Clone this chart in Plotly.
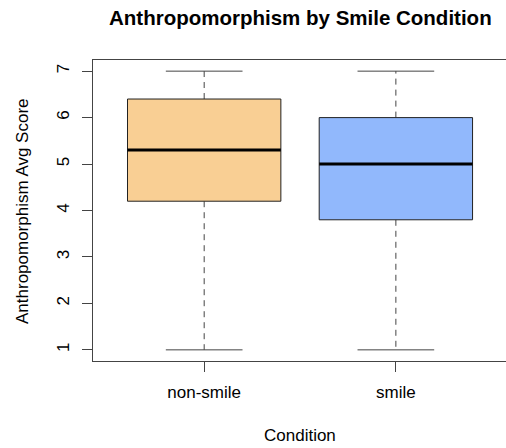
import plotly.graph_objects as go

# ---- data ----
categories = ["non-smile", "smile"]
positions = [1, 2]
mins = [1.0, 1.0]
q1s = [4.2, 3.8]
medians = [5.3, 5.0]
q3s = [6.4, 6.0]
maxs = [7.0, 7.0]
fills = ["#F9CF94", "#91B8FC"]
y_ticks = [1, 2, 3, 4, 5, 6, 7]

title_text = "Anthropomorphism by Smile Condition"
x_title = "Condition"
y_title = "Anthropomorphism Avg Score"

BOX_HALF = 0.4
CAP_HALF = 0.2
FONT = "Liberation Sans, Arial, Helvetica, sans-serif"
W, H = 506, 448
ML, MR, MT, MB = 93, 0, 60, 87
PH = H - MT - MB

fig = go.Figure()
for i, cat in enumerate(categories):
    x = positions[i]
    # dashed whiskers
    fig.add_trace(go.Scatter(
        x=[x, x, None, x, x], y=[q3s[i], maxs[i], None, q1s[i], mins[i]],
        mode="lines", line=dict(color="#444444", width=1, dash="6px,5px"),
        hoverinfo="skip", showlegend=False))
    # caps
    fig.add_trace(go.Scatter(
        x=[x - CAP_HALF, x + CAP_HALF, None, x - CAP_HALF, x + CAP_HALF],
        y=[maxs[i], maxs[i], None, mins[i], mins[i]],
        mode="lines", line=dict(color="#444444", width=1),
        hoverinfo="skip", showlegend=False))
    # box
    fig.add_trace(go.Scatter(
        x=[x - BOX_HALF, x + BOX_HALF, x + BOX_HALF, x - BOX_HALF, x - BOX_HALF],
        y=[q1s[i], q1s[i], q3s[i], q3s[i], q1s[i]],
        mode="lines", fill="toself", fillcolor=fills[i],
        line=dict(color="#222222", width=1),
        name=cat, showlegend=False))
    # median
    fig.add_trace(go.Scatter(
        x=[x - BOX_HALF, x + BOX_HALF], y=[medians[i], medians[i]],
        mode="lines", line=dict(color="black", width=3),
        hoverinfo="skip", showlegend=False))


def py(pix):
    return (H - MB - pix) / PH


def px(pix):
    return (pix - ML) / (W - ML - MR)


fig.update_layout(
    width=W, height=H,
    margin=dict(l=ML, r=MR, t=MT, b=MB, pad=0),
    paper_bgcolor="white", plot_bgcolor="white",
    font=dict(family=FONT, size=17, color="black"),
    showlegend=False,
    xaxis=dict(
        range=[0.42, 2.5745], tickmode="array", tickvals=positions, ticktext=categories,
        ticks="outside", ticklen=10, tickcolor="#444444", tickwidth=1,
        showline=True, linecolor="#444444", linewidth=1, mirror=True,
        showgrid=False, zeroline=False, fixedrange=True,
        tickfont=dict(size=17, color="black"), ticklabelstandoff=6,
    ),
    yaxis=dict(
        range=[0.76, 7.24], tickmode="array", tickvals=y_ticks,
        ticktext=[str(v) for v in y_ticks], tickangle=-90,
        ticks="outside", ticklen=10, tickcolor="#444444", tickwidth=1,
        showline=True, linecolor="#444444", linewidth=1, mirror=False,
        showgrid=False, zeroline=False, fixedrange=True,
        tickfont=dict(size=17, color="black"), ticklabelstandoff=6,
    ),
    annotations=[
        dict(text="<b>" + title_text + "</b>", xref="paper", yref="paper",
             x=px(300), y=py(18), xanchor="center", yanchor="middle",
             showarrow=False, font=dict(size=20.5, color="black", family=FONT)),
        dict(text=x_title, xref="paper", yref="paper",
             x=px(300), y=py(435), xanchor="center", yanchor="middle",
             showarrow=False, font=dict(size=17, color="black", family=FONT)),
        dict(text=y_title, xref="paper", yref="paper",
             x=px(22), y=py(211), xanchor="center", yanchor="middle",
             textangle=-90, showarrow=False,
             font=dict(size=17, color="black", family=FONT)),
    ],
)

fig.write_html("out.html")
